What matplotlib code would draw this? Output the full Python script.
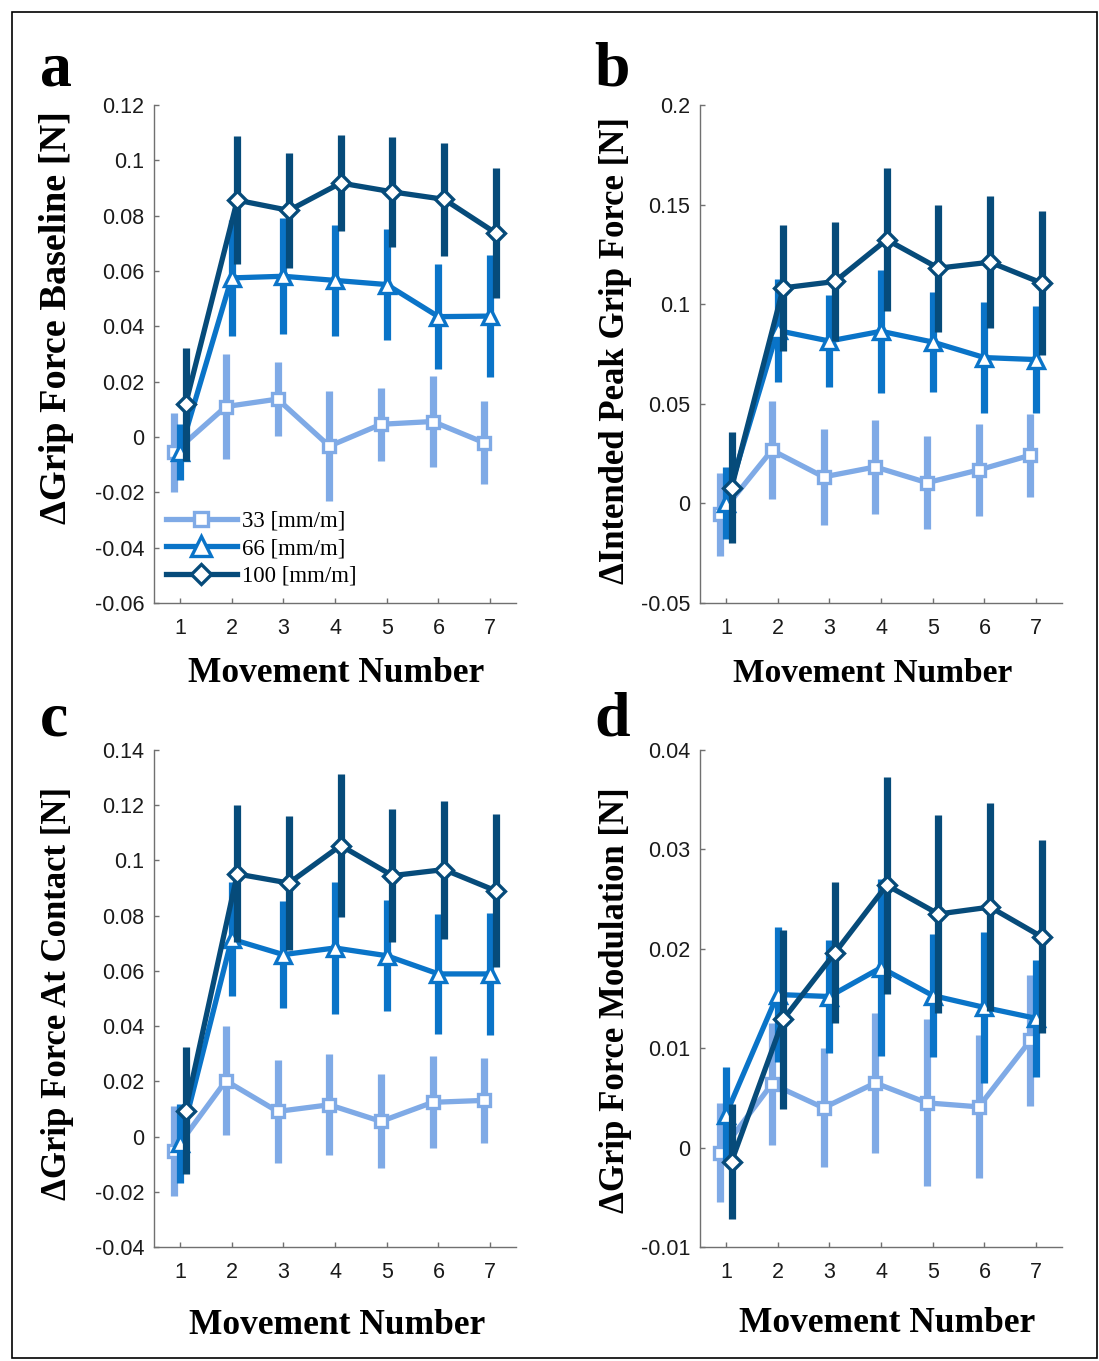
import numpy as np
import matplotlib
matplotlib.use("Agg")
from matplotlib import pyplot as plt
from matplotlib.patches import Rectangle

moves = np.arange(1, 8)
speeds = ['33 [mm/m]', '66 [mm/m]', '100 [mm/m]']

# a - grip force baseline
base_33 = [-0.0056, 0.0110, 0.0137, -0.0033, 0.0046, 0.0056, -0.0021]
base_33_err = [0.0144, 0.0190, 0.0133, 0.0200, 0.0131, 0.0165, 0.0150]
base_66 = [-0.0054, 0.0575, 0.0581, 0.0566, 0.0551, 0.0435, 0.0437]
base_66_err = [0.0100, 0.0210, 0.0210, 0.0200, 0.0200, 0.0190, 0.0220]
base_100 = [0.0118, 0.0856, 0.0819, 0.0918, 0.0886, 0.0859, 0.0737]
base_100_err = [0.0203, 0.0232, 0.0209, 0.0174, 0.0200, 0.0203, 0.0236]

# b - intended peak grip force
peak_33 = [-0.0055, 0.0267, 0.0133, 0.0183, 0.0104, 0.0168, 0.0242]
peak_33_err = [0.0210, 0.0245, 0.0240, 0.0237, 0.0233, 0.0230, 0.0208]
peak_66 = [0.0003, 0.0868, 0.0815, 0.0864, 0.0810, 0.0732, 0.0722]
peak_66_err = [0.0180, 0.0260, 0.0230, 0.0310, 0.0250, 0.0280, 0.0270]
peak_100 = [0.0079, 0.1082, 0.1114, 0.1324, 0.1181, 0.1211, 0.1106]
peak_100_err = [0.0280, 0.0317, 0.0300, 0.0358, 0.0319, 0.0330, 0.0360]

# c - grip force at contact
cont_33 = [-0.0053, 0.0202, 0.0091, 0.0115, 0.0055, 0.0124, 0.0131]
cont_33_err = [0.0163, 0.0197, 0.0185, 0.0183, 0.0170, 0.0167, 0.0154]
cont_66 = [-0.0025, 0.0715, 0.0659, 0.0683, 0.0655, 0.0589, 0.0589]
cont_66_err = [0.0142, 0.0207, 0.0195, 0.0240, 0.0200, 0.0216, 0.0222]
cont_100 = [0.0094, 0.0951, 0.0918, 0.1054, 0.0945, 0.0967, 0.0890]
cont_100_err = [0.0230, 0.0248, 0.0244, 0.0260, 0.0242, 0.0250, 0.0277]

# d - grip force modulation
mod_33 = [-0.0005, 0.0064, 0.0040, 0.0065, 0.0045, 0.0041, 0.0108]
mod_33_err = [0.0050, 0.0061, 0.0060, 0.0070, 0.0084, 0.0072, 0.0066]
mod_66 = [0.0033, 0.0154, 0.0152, 0.0181, 0.0153, 0.0141, 0.0130]
mod_66_err = [0.0048, 0.0068, 0.0057, 0.0089, 0.0062, 0.0076, 0.0059]
mod_100 = [-0.0014, 0.0129, 0.0196, 0.0264, 0.0235, 0.0242, 0.0212]
mod_100_err = [0.0058, 0.0090, 0.0071, 0.0109, 0.0100, 0.0105, 0.0097]

colors = ['#7faae6', '#0a74c8', '#064b7a']
markers = ['s', '^', 'D']
msizes = [9, 12, 9]
shifts = [-0.11, 0.0, 0.11]

W, H = 1099, 1361
fig = plt.figure(figsize=(W / 100, H / 100), dpi=100)
fig.patches.append(Rectangle((12 / W, 3 / H), 1085 / W, 1346 / H, transform=fig.transFigure,
                             fill=False, edgecolor='black', linewidth=1.2))

serif = 'Liberation Serif'
sans = 'Liberation Sans'


def px_axes(left, top, right, bottom):
    return fig.add_axes([left / W, 1 - bottom / H, (right - left) / W, (bottom - top) / H])


def draw_panel(ax, series, errs, ylo, yhi, ystep):
    lines = []
    for i in range(3):
        xs = moves + shifts[i]
        ax.errorbar(xs, series[i], yerr=errs[i], fmt='none', ecolor=colors[i],
                    elinewidth=5.2, capsize=0, zorder=2 + 2 * i)
        ln, = ax.plot(xs, series[i], color=colors[i], lw=3.8, marker=markers[i],
                      ms=msizes[i], mfc='white', mec=colors[i], mew=2.4, zorder=3 + 2 * i)
        lines.append(ln)
    ax.set_xlim(0.5, 7.5)
    ax.set_ylim(ylo, yhi)
    ticks = np.round(np.arange(ylo, yhi + ystep / 2, ystep), 3)
    ax.set_yticks(ticks)
    ax.set_yticklabels([f'{t:g}' for t in ticks])
    ax.set_xticks(moves)
    for s in ['top', 'right']:
        ax.spines[s].set_visible(False)
    for s in ['left', 'bottom']:
        ax.spines[s].set_color('#707070')
        ax.spines[s].set_linewidth(1.0)
    ax.tick_params(direction='in', length=3.5, width=1.0, color='#707070',
                   labelsize=15.5, labelcolor='#1a1a1a')
    ax.tick_params(axis='y', pad=7)
    ax.tick_params(axis='x', pad=11)
    for lab in ax.get_xticklabels() + ax.get_yticklabels():
        lab.set_fontfamily(sans)
    return lines


ax_a = px_axes(154, 105, 516, 603)
ax_b = px_axes(700, 105, 1062, 603)
ax_c = px_axes(154, 750, 516, 1247)
ax_d = px_axes(700, 750, 1062, 1247)

lines = draw_panel(ax_a, [base_33, base_66, base_100], [base_33_err, base_66_err, base_100_err],
                   -0.06, 0.12, 0.02)
draw_panel(ax_b, [peak_33, peak_66, peak_100], [peak_33_err, peak_66_err, peak_100_err],
           -0.05, 0.2, 0.05)
draw_panel(ax_c, [cont_33, cont_66, cont_100], [cont_33_err, cont_66_err, cont_100_err],
           -0.04, 0.14, 0.02)
draw_panel(ax_d, [mod_33, mod_66, mod_100], [mod_33_err, mod_66_err, mod_100_err],
           -0.01, 0.04, 0.01)

ax_a.legend(lines, speeds, loc='lower left', bbox_to_anchor=(0.033, 0.033), frameon=False,
            prop={'family': serif, 'size': 16.5}, handlelength=3.1, handletextpad=0.2,
            labelspacing=0.28, borderaxespad=0.0, borderpad=0.0, markerscale=1.15)

# axis titles
ylab = dict(rotation=90, ha='center', va='center', family=serif, weight='bold')
fig.text(57 / W, 1 - 318 / H, '\u0394Grip Force Baseline [N]', fontsize=27.5, **ylab)
fig.text(615 / W, 1 - 350 / H, '\u0394Intended Peak Grip Force [N]', fontsize=25, **ylab)
fig.text(57 / W, 1 - 993 / H, '\u0394Grip Force At Contact [N]', fontsize=25, **ylab)
fig.text(615 / W, 1 - 1000 / H, '\u0394Grip Force Modulation [N]', fontsize=25, **ylab)

xlab = dict(ha='center', va='center', family=serif, weight='bold')
fig.text(336 / W, 1 - 673 / H, 'Movement Number', fontsize=25.5, **xlab)
fig.text(873 / W, 1 - 673 / H, 'Movement Number', fontsize=24, **xlab)
fig.text(337 / W, 1 - 1326 / H, 'Movement Number', fontsize=25.5, **xlab)
fig.text(887 / W, 1 - 1323 / H, 'Movement Number', fontsize=25.5, **xlab)

# panel letters
let = dict(ha='left', va='baseline', family=serif, weight='bold', fontsize=46)
fig.text(40 / W, 1 - 85 / H, 'a', **let)
fig.text(594 / W, 1 - 85 / H, 'b', **let)
fig.text(40 / W, 1 - 735 / H, 'c', **let)
fig.text(594 / W, 1 - 735 / H, 'd', **let)

fig.savefig('out.png', dpi=100)
